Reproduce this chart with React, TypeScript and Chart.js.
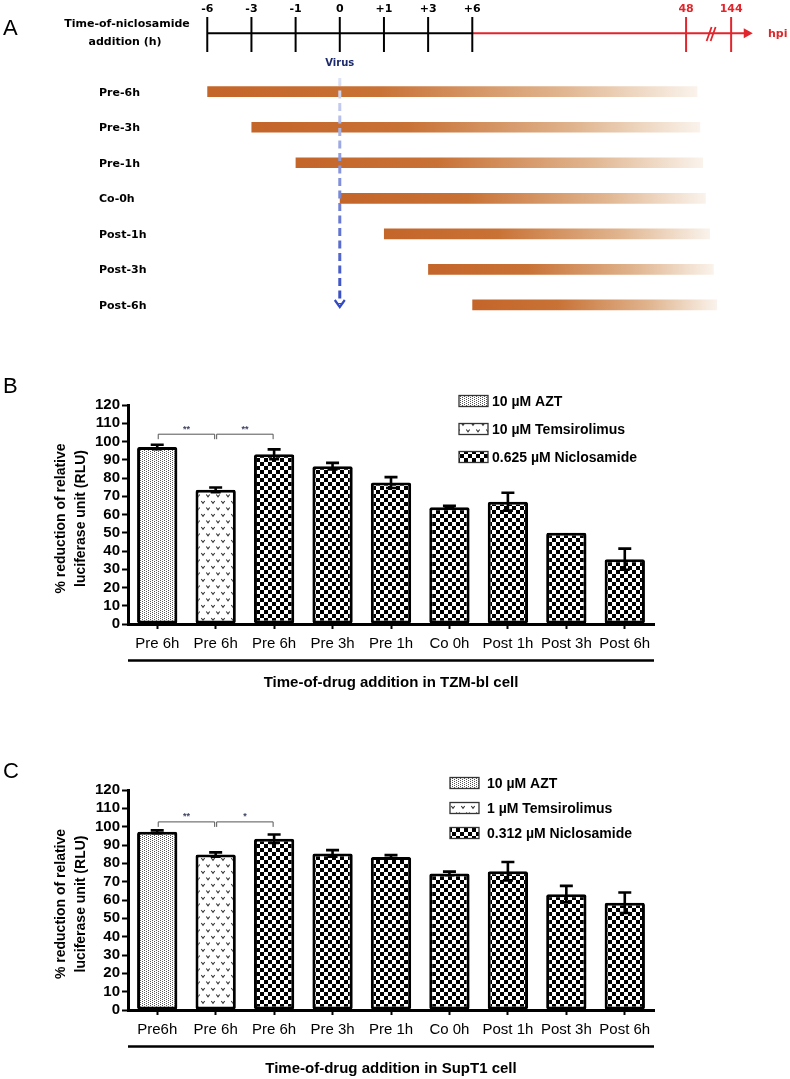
import React, { useEffect, useRef } from 'react';
import { Chart, registerables } from 'chart.js';

Chart.register(...registerables);

// ---------------- Panel A data ----------------
const timeTickValues = [-6, -3, -1, 0, 1, 3, 6, 48, 144];
const timeTickLabels = ['-6', '-3', '-1', '0', '+1', '+3', '+6', '48', '144'];
const treatmentRows = ['Pre-6h', 'Pre-3h', 'Pre-1h', 'Co-0h', 'Post-1h', 'Post-3h', 'Post-6h'];
const additionTimes = [-6, -3, -1, 0, 1, 3, 6];
const exposureEndHpi = [72, 78, 84, 90, 99, 107, 114];
const virusTime = 0;

// ---------------- Panel B data (TZM-bl) ----------------
const tzmCategories = ['Pre 6h', 'Pre 6h', 'Pre 6h', 'Pre 3h', 'Pre 1h', 'Co 0h', 'Post 1h', 'Post 3h', 'Post 6h'];
const tzmValues = [97, 73.5, 93, 86.5, 77.5, 64, 67, 50, 35.5];
const tzmErrors = [1.2, 1.3, 2.7, 1.8, 3, 0.7, 4.9, 0, 5.8];
const tzmLegend = ['10 \u00b5M AZT', '10 \u00b5M Temsirolimus', '0.625 \u00b5M Niclosamide'];
const tzmSig = [
  { from: 0, to: 1, label: '**' },
  { from: 1, to: 2, label: '**' },
];

// ---------------- Panel C data (SupT1) ----------------
const supCategories = ['Pre6h', 'Pre 6h', 'Pre 6h', 'Pre 3h', 'Pre 1h', 'Co 0h', 'Post 1h', 'Post 3h', 'Post 6h'];
const supValues = [97.2, 84.8, 93.4, 85.4, 83.5, 74.5, 75.7, 63.2, 58.5];
const supErrors = [0.8, 1.2, 2.3, 1.8, 1, 1, 5, 4.5, 5.6];
const supLegend = ['10 \u00b5M AZT', '1 \u00b5M Temsirolimus', '0.312 \u00b5M Niclosamide'];
const supSig = [
  { from: 0, to: 1, label: '**' },
  { from: 1, to: 2, label: '*' },
];

// which treatment series each bar belongs to (0 AZT, 1 Temsirolimus, 2 Niclosamide)
const barSeries = [0, 1, 2, 2, 2, 2, 2, 2, 2];
const yTickMax = 120;
const yTickStep = 10;

const ARIAL = '"Liberation Sans", Arial, sans-serif';
const GOTHIC = '"DejaVu Sans", sans-serif';

// broken time axis: first seven ticks are equally spaced, then a compressed span
const SLOT_48 = 10.84;
const SLOT_144 = 11.86;
const AXIS_END_SLOT = 12.35;
function timeToSlot(t: number): number {
  const early = timeTickValues.slice(0, 7);
  if (t <= early[6]) {
    for (let i = 0; i < 6; i++) {
      if (t <= early[i + 1]) return i + (t - early[i]) / (early[i + 1] - early[i]);
    }
  }
  if (t <= 48) return 6 + ((t - 6) / 42) * (SLOT_48 - 6);
  return SLOT_48 + ((t - 48) / 96) * (SLOT_144 - SLOT_48);
}

// ---------------- patterns ----------------
function makeChecker(): CanvasPattern {
  const c = document.createElement('canvas');
  c.width = 8; c.height = 8;
  const g = c.getContext('2d')!;
  g.fillStyle = '#fff'; g.fillRect(0, 0, 8, 8);
  g.fillStyle = '#000'; g.fillRect(0, 0, 4, 4); g.fillRect(4, 4, 4, 4);
  return g.createPattern(c, 'repeat')!;
}
function makeStipple(): CanvasPattern {
  const c = document.createElement('canvas');
  c.width = 4; c.height = 4;
  const g = c.getContext('2d')!;
  g.fillStyle = '#fff'; g.fillRect(0, 0, 4, 4);
  g.fillStyle = '#555';
  g.fillRect(0, 0, 1, 1); g.fillRect(2, 1, 1, 1); g.fillRect(0, 2, 1, 1); g.fillRect(2, 3, 1, 1);
  return g.createPattern(c, 'repeat')!;
}
function makeVees(): CanvasPattern {
  const c = document.createElement('canvas');
  c.width = 10; c.height = 13;
  const g = c.getContext('2d')!;
  g.fillStyle = '#fff'; g.fillRect(0, 0, 10, 13);
  g.strokeStyle = '#333'; g.lineWidth = 1.1;
  const vee = (x: number, y: number) => {
    g.beginPath(); g.moveTo(x, y); g.lineTo(x + 1.7, y + 2.4); g.lineTo(x + 3.4, y); g.stroke();
  };
  vee(1.3, 2); vee(6.3, 8.5);
  return g.createPattern(c, 'repeat')!;
}

// ---------------- Panel A chart ----------------
const timelinePlugin = {
  id: 'timeline',
  afterDatasetsDraw(chart: any) {
    const ctx: CanvasRenderingContext2D = chart.ctx;
    const xs = chart.scales.x;
    const ys = chart.scales.y;
    const px = (slot: number) => xs.getPixelForValue(slot);
    const axisY = 33.3;
    const red = '#e0262c';
    ctx.save();
    // panel letter
    ctx.fillStyle = '#000';
    ctx.font = `22px ${ARIAL}`;
    ctx.textBaseline = 'middle';
    ctx.textAlign = 'left';
    ctx.fillText('A', 3, 29);
    // axis title
    ctx.font = `bold 11px ${GOTHIC}`;
    ctx.textAlign = 'center';
    ctx.fillText('Time-of-niclosamide', 127, 24);
    ctx.fillText('addition (h)', 125, 42);
    // axis line
    const x0 = px(timeToSlot(timeTickValues[0]));
    const x6 = px(timeToSlot(timeTickValues[6]));
    const xEnd = px(AXIS_END_SLOT);
    ctx.lineWidth = 2;
    ctx.strokeStyle = '#000';
    ctx.beginPath(); ctx.moveTo(x0, axisY); ctx.lineTo(x6, axisY); ctx.stroke();
    ctx.strokeStyle = red;
    ctx.beginPath(); ctx.moveTo(x6, axisY); ctx.lineTo(xEnd - 4, axisY); ctx.stroke();
    ctx.fillStyle = red;
    ctx.beginPath(); ctx.moveTo(xEnd, axisY); ctx.lineTo(xEnd - 9, axisY - 5); ctx.lineTo(xEnd - 9, axisY + 5); ctx.closePath(); ctx.fill();
    // ticks and labels
    timeTickValues.forEach((t, i) => {
      const x = px(timeToSlot(t));
      const col = t > 6 ? red : '#000';
      ctx.strokeStyle = col;
      ctx.lineWidth = 2;
      ctx.beginPath(); ctx.moveTo(x, 17); ctx.lineTo(x, 52); ctx.stroke();
      ctx.fillStyle = col;
      ctx.font = `bold 11px ${GOTHIC}`;
      ctx.textAlign = 'center';
      ctx.fillText(timeTickLabels[i], x, 9);
    });
    // break mark
    const xb = (px(SLOT_48) + px(SLOT_144)) / 2 + 4;
    ctx.strokeStyle = red;
    ctx.lineWidth = 1.8;
    ctx.beginPath();
    ctx.moveTo(xb - 6, 41); ctx.lineTo(xb - 1, 27);
    ctx.moveTo(xb - 2, 41); ctx.lineTo(xb + 3, 27);
    ctx.stroke();
    ctx.fillStyle = red;
    ctx.textAlign = 'left';
    ctx.fillText('hpi', 768, 34);
    // row labels
    ctx.fillStyle = '#000';
    treatmentRows.forEach((r, i) => {
      ctx.fillText(r, 99, ys.getPixelForValue(i) + 1);
    });
    // virus label and arrow
    const xv = px(timeToSlot(virusTime));
    ctx.fillStyle = '#1d2a6c';
    ctx.font = `bold 10px ${GOTHIC}`;
    ctx.textAlign = 'center';
    ctx.fillText('Virus', xv, 63);
    const yTop = 78;
    const yTip = 307;
    const grad = ctx.createLinearGradient(0, yTop, 0, yTip);
    grad.addColorStop(0, '#dde2f5');
    grad.addColorStop(0.35, '#8f9de0');
    grad.addColorStop(1, '#3249c2');
    ctx.strokeStyle = grad;
    ctx.lineWidth = 3;
    ctx.setLineDash([8, 4.5]);
    ctx.beginPath(); ctx.moveTo(xv, yTop); ctx.lineTo(xv, yTip - 3); ctx.stroke();
    ctx.setLineDash([]);
    ctx.lineWidth = 2.2;
    ctx.strokeStyle = '#3249c2';
    ctx.beginPath(); ctx.moveTo(xv - 5, yTip - 7); ctx.lineTo(xv, yTip); ctx.lineTo(xv + 5, yTip - 7); ctx.stroke();
    ctx.restore();
  },
};

function makeTimeline(canvas: HTMLCanvasElement) {
  const barFill = (c: any) => {
    const chart = c.chart;
    const raw = c.raw as number[] | undefined;
    if (!chart.chartArea || !Array.isArray(raw)) return '#c6692d';
    const xs = chart.scales.x;
    const a = xs.getPixelForValue(raw[0]);
    const b = xs.getPixelForValue(raw[1]);
    const g = chart.ctx.createLinearGradient(a, 0, b, 0);
    g.addColorStop(0, '#c4652a');
    g.addColorStop(0.35, '#c97236');
    g.addColorStop(0.72, '#e0b48e');
    g.addColorStop(1, '#faf3ec');
    return g;
  };
  return new Chart(canvas, {
    type: 'bar',
    data: {
      labels: treatmentRows,
      datasets: [
        {
          data: additionTimes.map((t, i) => [timeToSlot(t), timeToSlot(exposureEndHpi[i])]) as any,
          backgroundColor: barFill as any,
          borderWidth: 0,
          barPercentage: 0.3,
          categoryPercentage: 1,
        },
      ],
    },
    options: {
      indexAxis: 'y',
      animation: false,
      responsive: false,
      events: [],
      layout: { padding: { left: 163.1, right: 30.6, top: 73.9, bottom: 7.3 } },
      scales: {
        x: { type: 'linear', display: false, min: -1, max: 12.5 },
        y: { display: false },
      },
      plugins: { legend: { display: false }, tooltip: { enabled: false } },
    },
    plugins: [timelinePlugin],
  });
}

// ---------------- Panels B and C ----------------
interface PanelCfg {
  letter: string;
  letterY: number;
  categories: string[];
  values: number[];
  errors: number[];
  legend: string[];
  sig: { from: number; to: number; label: string }[];
  sigLevel: number;
  xTitle: string;
  height: number;
  areaTop: number;
  areaBottom: number;
  legendBoxX: number;
  legendTextX: number;
  legendRows: number[];
}

function makeBarChart(canvas: HTMLCanvasElement, cfg: PanelCfg) {
  const patterns = [makeStipple(), makeVees(), makeChecker()];
  const datasets = cfg.legend.map((label, s) => ({
    label,
    data: cfg.values.map((v, i) => (barSeries[i] === s ? v : null)),
    backgroundColor: patterns[s],
    borderColor: '#000',
    borderWidth: 3,
    borderRadius: 2,
    borderSkipped: false,
    grouped: false,
    barPercentage: 0.69,
    categoryPercentage: 1,
  }));

  const decor = {
    id: 'decor',
    afterDatasetsDraw(chart: any) {
      const ctx: CanvasRenderingContext2D = chart.ctx;
      const xs = chart.scales.x;
      const ys = chart.scales.y;
      const area = chart.chartArea;
      ctx.save();
      // error bars
      ctx.strokeStyle = '#000';
      ctx.lineWidth = 2.6;
      cfg.values.forEach((v, i) => {
        const e = cfg.errors[i];
        if (!e) return;
        const x = xs.getPixelForValue(i);
        const yt = ys.getPixelForValue(v + e);
        const yb = ys.getPixelForValue(v - e);
        ctx.beginPath();
        ctx.moveTo(x, yb); ctx.lineTo(x, yt);
        ctx.moveTo(x - 6.5, yt); ctx.lineTo(x + 6.5, yt);
        ctx.moveTo(x - 5, yb); ctx.lineTo(x + 5, yb);
        ctx.stroke();
      });
      // significance brackets
      const yl = ys.getPixelForValue(cfg.sigLevel);
      ctx.strokeStyle = '#555';
      ctx.lineWidth = 1;
      cfg.sig.forEach((s) => {
        const xa = xs.getPixelForValue(s.from) + 1;
        const xb = xs.getPixelForValue(s.to) - 1;
        ctx.beginPath();
        ctx.moveTo(xa, yl + 5); ctx.lineTo(xa, yl); ctx.lineTo(xb, yl); ctx.lineTo(xb, yl + 5);
        ctx.stroke();
        ctx.fillStyle = '#3f4460';
        ctx.font = `bold 9px ${ARIAL}`;
        ctx.textAlign = 'center';
        ctx.textBaseline = 'middle';
        ctx.fillText(s.label, (xa + xb) / 2, yl - 5);
      });
      // legend
      cfg.legend.forEach((label, s) => {
        const y = cfg.legendRows[s];
        ctx.fillStyle = patterns[s];
        ctx.fillRect(cfg.legendBoxX, y - 5.5, 29, 11);
        ctx.strokeStyle = '#333';
        ctx.lineWidth = 1.3;
        ctx.strokeRect(cfg.legendBoxX, y - 5.5, 29, 11);
        ctx.fillStyle = '#000';
        ctx.font = `bold 14px ${ARIAL}`;
        ctx.textAlign = 'left';
        ctx.textBaseline = 'middle';
        ctx.fillText(label, cfg.legendTextX, y + 1);
      });
      // underline + x title
      ctx.strokeStyle = '#000';
      ctx.lineWidth = 2.5;
      ctx.beginPath();
      ctx.moveTo(area.left, area.bottom + 36.5);
      ctx.lineTo(area.right, area.bottom + 36.5);
      ctx.stroke();
      ctx.fillStyle = '#000';
      ctx.font = `bold 15px ${ARIAL}`;
      ctx.textAlign = 'center';
      ctx.textBaseline = 'middle';
      ctx.fillText(cfg.xTitle, (area.left + area.right) / 2, area.bottom + 59);
      // y title
      const cy = (area.top + area.bottom) / 2 + 4;
      ctx.save();
      ctx.translate(61, cy);
      ctx.rotate(-Math.PI / 2);
      ctx.font = `bold 14px ${ARIAL}`;
      ctx.fillText('% reduction of relative', 0, 0);
      ctx.restore();
      ctx.save();
      ctx.translate(81.5, cy);
      ctx.rotate(-Math.PI / 2);
      ctx.font = `bold 14px ${ARIAL}`;
      ctx.fillText('luciferase unit (RLU)', 0, 0);
      ctx.restore();
      // panel letter
      ctx.font = `22px ${ARIAL}`;
      ctx.textAlign = 'left';
      ctx.fillText(cfg.letter, 3, cfg.letterY);
      ctx.restore();
    },
  };

  return new Chart(canvas, {
    type: 'bar',
    data: { labels: cfg.categories, datasets: datasets as any },
    options: {
      animation: false,
      responsive: false,
      events: [],
      layout: { padding: { left: 0, right: 136, top: cfg.areaTop, bottom: 0 } },
      scales: {
        x: {
          type: 'category',
          offset: true,
          afterFit: (scale: any) => { scale.height = cfg.height - cfg.areaBottom; },
          grid: {
            display: true,
            drawOnChartArea: false,
            offset: false,
            tickLength: 5,
            tickWidth: 2,
            tickColor: '#000',
            color: '#000',
          },
          border: { display: true, color: '#000', width: 3 },
          ticks: {
            color: '#000',
            padding: 6,
            maxRotation: 0,
            autoSkip: false,
            font: { family: ARIAL, size: 15 },
          },
        },
        y: {
          type: 'linear',
          min: 0,
          max: yTickMax,
          afterFit: (scale: any) => { scale.width = 128; },
          grid: {
            display: true,
            drawOnChartArea: false,
            tickLength: 6,
            tickWidth: 2,
            tickColor: '#000',
            color: '#000',
          },
          border: { display: true, color: '#000', width: 3 },
          ticks: {
            stepSize: yTickStep,
            autoSkip: false,
            color: '#000',
            padding: 2,
            font: { family: ARIAL, size: 15, weight: 'bold' },
          },
        },
      },
      plugins: { legend: { display: false }, tooltip: { enabled: false } },
    },
    plugins: [decor],
  });
}

const B_TOP = 330;
const C_TOP = 700;

export default function App() {
  const aRef = useRef<HTMLCanvasElement>(null);
  const bRef = useRef<HTMLCanvasElement>(null);
  const cRef = useRef<HTMLCanvasElement>(null);

  useEffect(() => {
    const charts: Chart[] = [];
    charts.push(makeTimeline(aRef.current!));
    charts.push(
      makeBarChart(bRef.current!, {
        letter: 'B',
        letterY: 57,
        categories: tzmCategories,
        values: tzmValues,
        errors: tzmErrors,
        legend: tzmLegend,
        sig: tzmSig,
        sigLevel: 104,
        xTitle: 'Time-of-drug addition in TZM-bl cell',
        height: 370,
        areaTop: 405 - B_TOP,
        areaBottom: 624 - B_TOP,
        legendBoxX: 459,
        legendTextX: 492,
        legendRows: [401 - B_TOP, 429 - B_TOP, 457 - B_TOP],
      })
    );
    charts.push(
      makeBarChart(cRef.current!, {
        letter: 'C',
        letterY: 72,
        categories: supCategories,
        values: supValues,
        errors: supErrors,
        legend: supLegend,
        sig: supSig,
        sigLevel: 102.6,
        xTitle: 'Time-of-drug addition in SupT1 cell',
        height: 379,
        areaTop: 790 - C_TOP,
        areaBottom: 1010 - C_TOP,
        legendBoxX: 450,
        legendTextX: 487,
        legendRows: [783 - C_TOP, 808 - C_TOP, 833 - C_TOP],
      })
    );
    return () => charts.forEach((c) => c.destroy());
  }, []);

  const abs = (top: number, h: number): React.CSSProperties => ({
    position: 'absolute',
    left: 0,
    top,
    width: 790,
    height: h,
  });

  return (
    <div style={{ position: 'absolute', left: 0, top: 0, width: 790, height: 1079, background: '#fff' }}>
      <canvas ref={aRef} width={790} height={330} style={abs(0, 330)} />
      <canvas ref={bRef} width={790} height={370} style={abs(B_TOP, 370)} />
      <canvas ref={cRef} width={790} height={379} style={abs(C_TOP, 379)} />
    </div>
  );
}
